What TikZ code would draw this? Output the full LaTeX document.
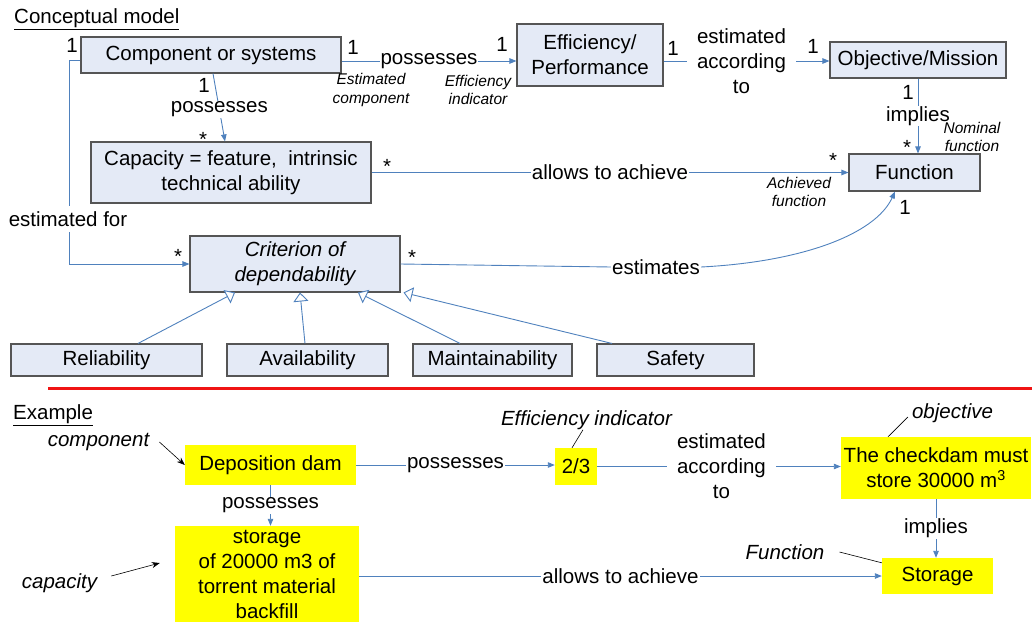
\documentclass[tikz,border=0pt]{standalone}
\usepackage{fontspec}
\setmainfont{Liberation Sans}
\usetikzlibrary{arrows.meta}
\definecolor{boxfill}{RGB}{228,234,246}
\definecolor{boxborder}{RGB}{85,85,85}
\definecolor{conncol}{RGB}{79,129,189}
\definecolor{ylw}{RGB}{255,255,0}
\definecolor{redline}{RGB}{240,20,20}
\begin{document}
\begin{tikzpicture}[x=1pt,y=-1pt,
  every node/.style={font=\fontsize{20.5}{25}\selectfont, inner sep=0pt},
  cbox/.style={draw=boxborder, fill=boxfill, line width=1.1pt, align=center},
  ybox/.style={fill=ylw, align=center},
  conn/.style={draw=conncol, line width=0.9pt},
  arr/.style={conn, -{Triangle[length=7pt,width=5.5pt]}},
  inh/.style={conn, -{Triangle[open,length=9pt,width=15pt,fill=white]}},
  lbl/.style={fill=white, inner xsep=1pt, inner ysep=0.5pt},
  wlbl/.style={fill=white, inner xsep=10pt, inner ysep=0pt, align=center},
  small/.style={font=\fontsize{15.5}{18.5}\selectfont\itshape, align=center},
  ital/.style={font=\fontsize{20.5}{25}\selectfont\itshape},
  note/.style={draw=black, line width=0.6pt},
  notearr/.style={note, -{Stealth[length=8pt,width=6pt]}},
]
\path[use as bounding box] (0,0) rectangle (1032,621);

% ---------------- Conceptual model ----------------
\node[anchor=west] (title) at (14,19) {\underline{Conceptual model}};

\node[cbox, minimum width=260, minimum height=36] (comp) at (211,55) {Component or systems};
\node[cbox, minimum width=146, minimum height=62] (eff) at (590,55) {Efficiency/\\Performance};
\node[cbox, minimum width=176, minimum height=36] (obj) at (918,60) {Objective/Mission};
\node[cbox, minimum width=131, minimum height=37] (fun) at (914.5,172.5) {Function};
\node[cbox, minimum width=280, minimum height=61] (cap) at (231,172.5) {Capacity = feature,\ \ intrinsic\\technical ability};
\node[cbox, minimum width=210, minimum height=56, font=\fontsize{20.5}{25}\selectfont\itshape] (crit) at (295,264) {Criterion of\\dependability};
\node[cbox, minimum width=191, minimum height=32] (rel) at (106.5,360) {Reliability};
\node[cbox, minimum width=161, minimum height=32] (avail) at (307.5,360) {Availability};
\node[cbox, minimum width=159, minimum height=32] (maint) at (492.5,360) {Maintainability};
\node[cbox, minimum width=157, minimum height=32] (safe) at (675.5,360) {Safety};

% connectors
\coordinate (ce) at ([yshift=-6pt]comp.east);
\draw[arr] (ce) -- (ce -| eff.west) node[midway, lbl] {possesses};
\coordinate (ee) at ([yshift=-6pt]eff.east);
\draw[arr] (ee) -- (ee -| obj.west) node[pos=0.47, wlbl] {estimated\\according\\to};
\draw[arr] (obj.south) -- (obj.south |- fun.north) node[midway, lbl] {implies};
\draw[arr] (cap.east) -- (fun.west) node[midway, lbl] {allows to achieve};
\draw[arr] ([xshift=2pt]comp.south) -- ([xshift=-6pt]cap.north) node[pos=0.53, lbl] {possesses};
\coordinate (cw) at ([yshift=-5pt]comp.west);
\coordinate (lc) at (69,60);
\draw[arr] (cw) -- (lc) |- (crit.west);
\node[fill=white, inner xsep=1pt, inner ysep=5pt] (estfor) at (68,219) {estimated for};
\node[lbl] (estl) at (656,267) {estimates};
\draw[conn] (crit.east) -- (estl.west);
\draw[arr] (estl.east) .. controls (800,262) and (875,235) .. ([xshift=-19.5pt]fun.south);

% inheritance
\draw[inh] ([xshift=31.5pt]rel.north) -- ([xshift=-60pt]crit.south);
\draw[inh] ([xshift=-2.5pt]avail.north) -- ([xshift=5pt]crit.south);
\draw[inh] ([xshift=-32.5pt]maint.north) -- ([xshift=63pt]crit.south);
\draw[inh] ([xshift=-63.5pt]safe.north) -- ([xshift=3pt]crit.south east);

% multiplicities
\node at (72,45) {1};
\node at (353,47) {1};
\node at (204,85) {1};
\node at (502,44) {1};
\node at (673,48) {1};
\node at (813,46) {1};
\node at (908,92) {1};
\node at (905,207) {1};
\node at (203,139) {*};
\node at (387,166) {*};
\node at (178,256) {*};
\node at (412,257) {*};
\node at (907,147) {*};
\node at (833,160) {*};

% role names
\node[small] at (371,90) {Estimated\\component};
\node[small] at (478,90) {Efficiency\\indicator};
\node[small] at (972,137) {Nominal\\function};
\node[small] at (799,192) {Achieved\\function};

% separator
\draw[redline, line width=3pt] (48,388) -- (1032,388);

% ---------------- Example ----------------
\node[anchor=west] (extitle) at (13,415) {\underline{Example}};

\node[ybox, minimum width=171, minimum height=40] (dep) at (270.5,465) {Deposition dam};
\node[ybox, minimum width=42, minimum height=37] (tt) at (576,466.5) {2/3};
\node[ybox, minimum width=190, minimum height=62] (objy) at (936,468) {The checkdam must\\store 30000 m\textsuperscript{3}};
\node[ybox, minimum width=111, minimum height=36] (stor) at (937.5,576) {Storage};
\node[ybox, minimum width=184, minimum height=96] (capy) at (267,574) {storage\\of 20000 m3 of\\torrent material\\backfill};

\draw[arr] (dep.east) -- (dep.east -| tt.west) node[midway, lbl] {possesses};
\draw[arr] (tt.east) -- (tt.east -| objy.west) node[pos=0.51, wlbl] {estimated\\according\\to};
\draw[arr] (objy.south) -- (objy.south |- stor.north) node[midway, lbl] {implies};
\draw[arr] (dep.south) -- (dep.south |- capy.north) node[midway, lbl] {possesses};
\draw[arr] (capy.east |- stor.west) -- (stor.west) node[midway, lbl] {allows to achieve};

% annotations
\node[ital] (cl) at (98.5,442) {component};
\draw[notearr] ([xshift=10pt]cl.east) -- (dep.west);
\node[ital] (cp) at (59.5,583) {capacity};
\draw[notearr] ([shift={(14pt,7pt)}]cp.east) -- ([shift={(-15pt,11pt)}]capy.west);
\node[ital] (ei) at (586.5,420) {Efficiency indicator};
\draw[note] ([xshift=-4pt]tt.north) -- ([xshift=-3.5pt]ei.south);
\node[ital] (ob) at (952.5,413) {objective};
\draw[note] ([xshift=-48pt]objy.north) -- ([shift={(-4pt,-4pt)}]ob.west);
\node[ital] (fl) at (785,552) {Function};
\draw[note] ([xshift=15pt]fl.east) -- ([yshift=-5pt]stor.north west);
\end{tikzpicture}
\end{document}
